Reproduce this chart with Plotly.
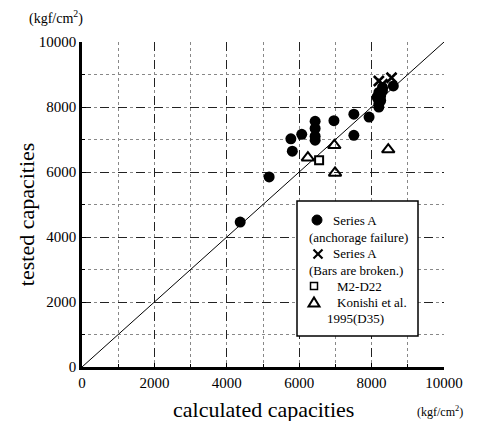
import plotly.graph_objects as go

# Series A (anchorage failure)
a_calc = [4370, 5170, 5810, 5770, 6070, 6440, 6440, 6440, 6440, 6960, 7510, 7510, 7930,
          8200, 8200, 8250, 8250, 8200, 8300, 8300, 8150, 8600]
a_test = [4460, 5850, 6640, 7020, 7160, 7560, 7340, 7100, 6980, 7580, 7780, 7130, 7690,
          8000, 8100, 8200, 8350, 8450, 8500, 8600, 8300, 8650]
# Series A (bars are broken)
b_calc = [8200, 8550, 8300]
b_test = [8800, 8900, 8700]
# M2-D22
m_calc = [6550]
m_test = [6360]
# Konishi et al. 1995 (D35)
k_calc = [6240, 6970, 6990, 8460]
k_test = [6440, 6820, 5970, 6690]
# 1:1 line
line_v = [0, 10000]

tick_vals = [0, 2000, 4000, 6000, 8000, 10000]
tick_text = ["0", "2000", "4000", "6000", "8000", "10000"]

serif = "Liberation Serif"

fig = go.Figure()
fig.add_trace(go.Scatter(x=line_v, y=line_v, mode="lines",
                         line=dict(color="black", width=1), showlegend=False))
fig.add_trace(go.Scatter(x=a_calc, y=a_test, mode="markers",
                         marker=dict(symbol="circle", size=11, color="black"), showlegend=False))
fig.add_trace(go.Scatter(x=b_calc, y=b_test, mode="markers",
                         marker=dict(symbol="x-thin", size=10, line=dict(color="black", width=2.5)),
                         showlegend=False))
fig.add_trace(go.Scatter(x=m_calc, y=m_test, mode="markers",
                         marker=dict(symbol="square-open", size=8, color="black",
                                     line=dict(width=2)), showlegend=False))
fig.add_trace(go.Scatter(x=k_calc, y=k_test, mode="markers",
                         marker=dict(symbol="triangle-up-open", size=11, color="black",
                                     line=dict(width=2)), showlegend=False))

axis_common = dict(
    range=[0, 10000], tickvals=tick_vals, ticktext=tick_text,
    showline=True, linecolor="black", linewidth=2.5,
    ticks="inside", ticklen=4, tickcolor="black", tickwidth=1,
    showgrid=True, gridcolor="#222", gridwidth=1.2, griddash="dash",
    minor=dict(dtick=1000, showgrid=True, gridcolor="#888", gridwidth=1, griddash="dot",
               ticks="inside", ticklen=3, tickcolor="black"),
    zeroline=False, mirror=False,
    tickfont=dict(family=serif, size=15, color="black"),
)

fig.update_xaxes(**axis_common)
fig.update_yaxes(**axis_common)

W, H = 478, 421
L, R, T, B = 82, 34, 42, 54
pw, ph = W - L - R, H - T - B

fig.update_layout(
    width=W, height=H,
    margin=dict(l=L, r=R, t=T, b=B),
    plot_bgcolor="white", paper_bgcolor="white",
    showlegend=False,
)


def px(xp):
    return (xp - L) / pw


def py(yp):
    return (H - B - yp) / ph


ann = []
# axis titles
ann.append(dict(text="calculated capacities", x=0.5, y=-0.085, xref="paper", yref="paper",
                xanchor="center", yanchor="top", showarrow=False,
                font=dict(family=serif, size=22, color="black")))
ann.append(dict(text="tested capacities", x=-0.155, y=0.47, xref="paper", yref="paper",
                xanchor="center", yanchor="middle", textangle=-90, showarrow=False,
                font=dict(family=serif, size=22, color="black")))
ann.append(dict(text="(kgf/cm<sup>2</sup>)", x=px(56), y=py(18), xref="paper", yref="paper",
                xanchor="center", yanchor="middle", showarrow=False,
                font=dict(family=serif, size=14, color="black")))
ann.append(dict(text="(kgf/cm<sup>2</sup>)", x=px(440), y=py(411), xref="paper", yref="paper",
                xanchor="center", yanchor="middle", showarrow=False,
                font=dict(family=serif, size=12, color="black")))

# manual legend (text)
leg_font = dict(family=serif, size=13, color="black")
rows = [
    (220, "Series A", 331),
    (237, "(anchorage failure)", 307),
    (254, "Series A", 331),
    (270, "(Bars are broken.)", 307),
    (286, "M2-D22", 335),
    (302, "Konishi et al.", 335),
    (318, "1995(D35)", 325),
]
for y, txt, tx in rows:
    ann.append(dict(text=txt, x=px(tx), y=py(y), xref="paper", yref="paper",
                    xanchor="left", yanchor="middle", showarrow=False, font=leg_font))

fig.update_layout(annotations=ann)

shapes = []
shapes.append(dict(type="rect", xref="paper", yref="paper",
                   x0=px(297), x1=px(418), y0=py(336), y1=py(201),
                   line=dict(color="black", width=1.5), fillcolor="white", layer="above"))


def pth(points, close=False):
    s = "M " + " L ".join(f"{px(a):.5f},{py(b):.5f}" for a, b in points)
    return s + (" Z" if close else "")


# legend symbols drawn as shapes (pixel positions converted to paper)
shapes.append(dict(type="circle", xref="paper", yref="paper",
                   x0=px(312), x1=px(322), y0=py(225), y1=py(215),
                   fillcolor="black", line=dict(color="black", width=1), layer="above"))
shapes.append(dict(type="path", xref="paper", yref="paper",
                   path=pth([(313.5, 249.5), (322.5, 258.5)]),
                   line=dict(color="black", width=2.2), layer="above"))
shapes.append(dict(type="path", xref="paper", yref="paper",
                   path=pth([(322.5, 249.5), (313.5, 258.5)]),
                   line=dict(color="black", width=2.2), layer="above"))
shapes.append(dict(type="rect", xref="paper", yref="paper",
                   x0=px(310.5), x1=px(317.5), y0=py(289.5), y1=py(282.5),
                   line=dict(color="black", width=1.5), layer="above"))
shapes.append(dict(type="path", xref="paper", yref="paper",
                   path=pth([(308.5, 306.5), (319.5, 306.5), (314, 297.5)], close=True),
                   line=dict(color="black", width=2), layer="above"))

fig.update_layout(shapes=shapes)

fig.write_html("out.html")
